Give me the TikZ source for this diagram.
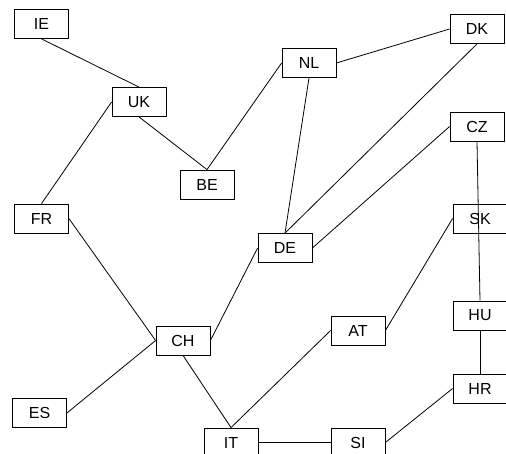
\documentclass[tikz,border=0pt]{standalone}
\usepackage{fontspec}
\setmainfont{Liberation Sans}
\begin{document}
\begin{tikzpicture}[x=1pt,y=-1pt,
  country/.style={draw=black,line width=0.8pt,fill=none,minimum width=54pt,minimum height=29pt,inner sep=0pt,font=\fontsize{16}{18}\selectfont},
  link/.style={draw=black,line width=0.8pt}]
\useasboundingbox (0,0) rectangle (506,454);
\node[country] (IE) at (41.5,24) {IE};
\node[country] (UK) at (139,102) {UK};
\node[country] (NL) at (309,63) {NL};
\node[country] (DK) at (477,29) {DK};
\node[country] (CZ) at (477,126.5) {CZ};
\node[country] (BE) at (207,184.5) {BE};
\node[country] (DE) at (285,248) {DE};
\node[country] (SK) at (480,218.5) {SK};
\node[country] (HU) at (480,315.5) {HU};
\node[country] (HR) at (480,388.5) {HR};
\node[country] (FR) at (41.5,218.5) {FR};
\node[country] (CH) at (183,340.5) {CH};
\node[country] (AT) at (358,330.5) {AT};
\node[country] (IT) at (231,442.5) {IT};
\node[country] (SI) at (358,442.5) {SI};
\node[country] (ES) at (39.5,413) {ES};
\draw[link] (IE.south) -- (UK.north);
\draw[link] (UK.west) -- (FR.north);
\draw[link] (UK.south) -- (BE.north);
\draw[link] (NL.west) -- (BE.north);
\draw[link] (NL.east) -- (DK.west);
\draw[link] (NL.south) -- (DE.north);
\draw[link] (DK.south) -- (DE.north);
\draw[link] (CZ.west) -- (DE.east);
\draw[link] (CZ.south) -- (HU.north);
\draw[link] (HU.south) -- (HR.north);
\draw[link] (AT.east) -- (SK.west);
\draw[link] (FR.east) -- (CH.west);
\draw[link] (ES.east) -- (CH.west);
\draw[link] (DE.west) -- (CH.east);
\draw[link] (CH.south) -- (IT.north);
\draw[link] (AT.west) -- (IT.north);
\draw[link] (IT.east) -- (SI.west);
\draw[link] (SI.east) -- (HR.west);
\end{tikzpicture}
\end{document}
